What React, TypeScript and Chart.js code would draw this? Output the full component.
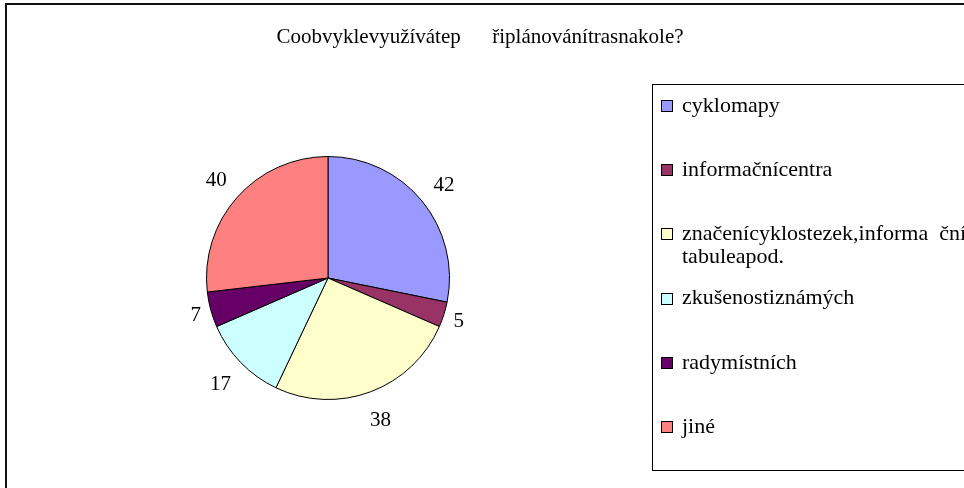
import React, { useEffect, useRef } from "react";
import { Chart, registerables } from "chart.js";

Chart.register(...registerables);

const TITLE = "Coobvyklevyužívátep      řiplánovánítrasnakole?";
const CATEGORIES: (string | string[])[] = [
  "cyklomapy",
  "informačnícentra",
  ["značenícyklostezek,informa  ční", "tabuleapod."],
  "zkušenostiznámých",
  "radymístních",
  "jiné",
];
const VALUES = [42, 5, 38, 17, 7, 40];
const COLORS = ["#9999FF", "#993366", "#FFFFCC", "#CCFFFF", "#660066", "#FF8080"];
const FONT = "'Liberation Serif', 'Times New Roman', serif";

const framePlugin = {
  id: "frame",
  beforeDraw(chart: any) {
    const { ctx, width, height } = chart;
    ctx.save();
    ctx.fillStyle = "#ffffff";
    ctx.fillRect(0, 0, width, height);
    ctx.strokeStyle = "#111";
    ctx.lineWidth = 2;
    ctx.strokeRect(6, 4, width + 20, height + 20);
    ctx.fillStyle = "#000";
    ctx.font = `21px ${FONT}`;
    ctx.textAlign = "center";
    ctx.textBaseline = "middle";
    ctx.fillText(chart.options.plugins.frame.title, 480, 37);
    ctx.lineWidth = 1;
    ctx.strokeStyle = "#000";
    ctx.strokeRect(652.5, 84.5, width, 386);
    const labels = chart.data.labels as (string | string[])[];
    const colors = chart.data.datasets[0].backgroundColor as string[];
    ctx.textAlign = "left";
    ctx.font = `22px ${FONT}`;
    labels.forEach((lab, i) => {
      const lines = Array.isArray(lab) ? lab : [lab];
      const cy = 106 + i * 64.2;
      ctx.fillStyle = "#000";
      lines.forEach((ln, j) => {
        ctx.fillText(ln, 682, cy + j * 23);
      });
      const sy = Math.round(cy);
      ctx.fillStyle = colors[i];
      ctx.fillRect(661.5, sy - 5.5, 11, 11);
      ctx.strokeStyle = "#000";
      ctx.strokeRect(661.5, sy - 5.5, 11, 11);
    });
    ctx.restore();
  },
  afterDatasetsDraw(chart: any) {
    const { ctx } = chart;
    const meta = chart.getDatasetMeta(0);
    const data = chart.data.datasets[0].data as number[];
    ctx.save();
    ctx.fillStyle = "#000";
    ctx.font = `21px ${FONT}`;
    ctx.textAlign = "center";
    ctx.textBaseline = "middle";
    meta.data.forEach((arc: any, i: number) => {
      const p = arc.getProps(["x", "y", "startAngle", "endAngle", "outerRadius"], true);
      const mid = (p.startAngle + p.endAngle) / 2;
      const text = String(data[i]);
      const w = ctx.measureText(text).width;
      const dist = p.outerRadius + 3 + 1.2 * w;
      ctx.fillText(text, p.x + Math.cos(mid) * dist, p.y + Math.sin(mid) * dist + 2);
    });
    ctx.restore();
  },
};

export default function App() {
  const ref = useRef<HTMLCanvasElement | null>(null);
  useEffect(() => {
    if (!ref.current) return;
    const chart = new Chart(ref.current, {
      type: "pie",
      data: {
        labels: CATEGORIES as any,
        datasets: [
          {
            data: VALUES,
            backgroundColor: COLORS,
            borderColor: "#000",
            borderWidth: 1,
          },
        ],
      },
      options: {
        animation: false,
        responsive: true,
        maintainAspectRatio: false,
        layout: { padding: { left: 206, right: 514, top: 156, bottom: 88 } },
        plugins: {
          legend: { display: false },
          tooltip: { enabled: false },
          frame: { title: TITLE },
        } as any,
      },
      plugins: [framePlugin],
    });
    return () => chart.destroy();
  }, []);
  return (
    <div style={{ position: "absolute", left: 0, top: 0, width: 964, height: 488 }}>
      <canvas ref={ref} />
    </div>
  );
}
